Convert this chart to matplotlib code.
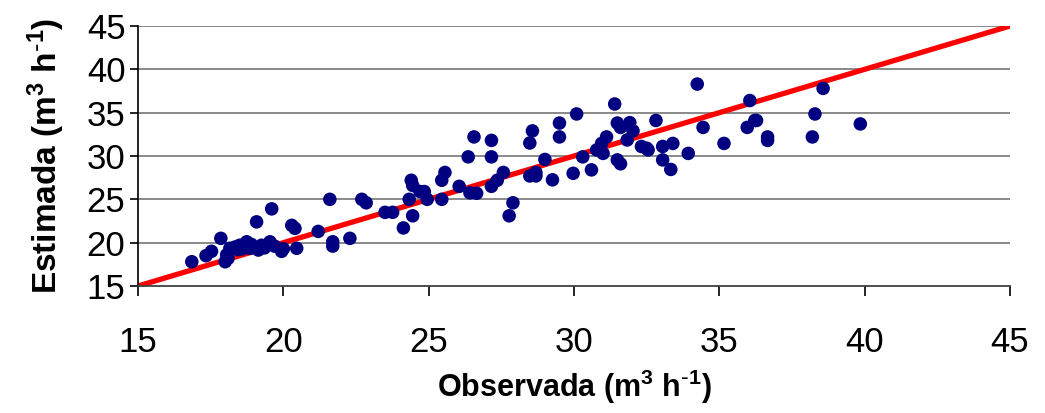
import matplotlib
matplotlib.use("Agg")
import matplotlib.pyplot as plt

plt.rcParams['mathtext.default'] = 'regular'

# Observed vs estimated flow (m3 h-1)
observada = [16.85, 17.34, 17.53, 17.85, 18.0, 18.05, 18.1, 18.16, 18.34, 18.45,
             18.5, 18.6, 18.74, 18.85, 18.9, 19.08, 19.14, 19.25, 19.35, 19.54,
             19.6, 19.7, 19.94, 20.0, 20.29, 20.4, 20.46,
             21.2, 21.6, 21.7, 21.7, 22.29, 22.7, 22.85, 23.5, 23.76,
             24.13, 24.33, 24.4, 24.45, 24.45, 24.7, 24.85, 24.95, 25.45, 25.56,
             25.45, 26.05, 26.36, 26.42, 26.65, 26.56, 27.16, 27.16, 27.16, 27.36,
             27.57, 27.9, 27.77, 28.48, 28.57, 28.48, 28.69, 28.69, 29.0, 29.26,
             29.5, 29.5, 29.97, 30.09, 30.3, 30.6, 30.78, 31.0, 30.95, 31.12,
             31.4, 31.49, 31.6, 31.49, 31.6, 31.83, 31.92, 32.03, 32.32, 32.5,
             32.55, 32.82, 33.05, 33.05, 33.33, 33.4, 33.93, 34.24, 34.44, 35.16,
             36.05, 35.96, 36.22, 36.28, 36.66, 36.66, 38.2, 38.29, 38.57, 39.85]
estimada = [17.8, 18.5, 19.0, 20.5, 17.8, 18.6, 18.2, 19.35, 19.5, 19.2,
            19.7, 19.3, 20.1, 19.35, 19.8, 22.4, 19.15, 19.7, 19.4, 20.1,
            23.9, 19.6, 19.0, 19.3, 22.0, 21.65, 19.35,
            21.3, 25.0, 20.1, 19.6, 20.5, 25.0, 24.6, 23.5, 23.5,
            21.7, 25.0, 27.2, 26.6, 23.1, 25.9, 25.9, 25.0, 27.2, 28.1,
            25.0, 26.5, 29.9, 25.75, 25.7, 32.2, 31.8, 29.9, 26.5, 27.2,
            28.1, 24.6, 23.1, 31.5, 32.9, 27.7, 27.7, 28.1, 29.6, 27.25,
            33.8, 32.2, 28.0, 34.85, 29.9, 28.4, 30.7, 30.3, 31.45, 32.2,
            36.0, 33.8, 33.3, 29.55, 29.1, 31.85, 33.85, 32.9, 31.1, 30.9,
            30.7, 34.1, 31.1, 29.55, 28.45, 31.45, 30.3, 38.3, 33.3, 31.45,
            36.4, 33.3, 34.1, 34.1, 32.2, 31.8, 32.2, 34.85, 37.8, 33.7]

line_x = [15, 45]
line_y = [15, 45]

ticks = [15, 20, 25, 30, 35, 40, 45]
tick_labels = ['15', '20', '25', '30', '35', '40', '45']

fig = plt.figure(figsize=(10.45, 4.13), dpi=100)
ax = fig.add_axes([138/1045, 1 - 286/413, (1010 - 138)/1045, (286 - 26)/413])

ax.set_xlim(15, 45)
ax.set_ylim(15, 45)

for t in ticks[1:]:
    ax.axhline(t, color='#808080', lw=1.3, zorder=1)

ax.plot(line_x, line_y, color='#ff0000', lw=3.8, zorder=2, solid_capstyle='butt')
ax.scatter(observada, estimada, s=95, color='#000080', edgecolors='none', zorder=3,
           clip_on=False)

for s in ['top', 'right']:
    ax.spines[s].set_visible(False)
ax.spines['left'].set_color('black')
ax.spines['left'].set_linewidth(1.2)
ax.spines['bottom'].set_color('#404040')
ax.spines['bottom'].set_linewidth(1.3)

ax.set_xticks(ticks)
ax.set_xticklabels(tick_labels, family='Liberation Sans', fontsize=25)
ax.set_yticks(ticks)
ax.set_yticklabels(tick_labels, family='Liberation Sans', fontsize=25)
ax.tick_params(axis='x', direction='out', length=7, width=1.2, pad=22, colors='black')
ax.tick_params(axis='y', direction='out', length=6, width=1.2, pad=3, colors='black')

ax.set_xlabel(r'Observada (m$^{3}$ h$^{\text{-}1}$)', family='Liberation Sans',
              fontweight='bold', fontsize=22, labelpad=6)
ax.set_ylabel(r'Estimada (m$^{3}$ h$^{\text{-}1}$)', family='Liberation Sans',
              fontweight='bold', fontsize=24, labelpad=14)

fig.savefig('out.png', dpi=100)
